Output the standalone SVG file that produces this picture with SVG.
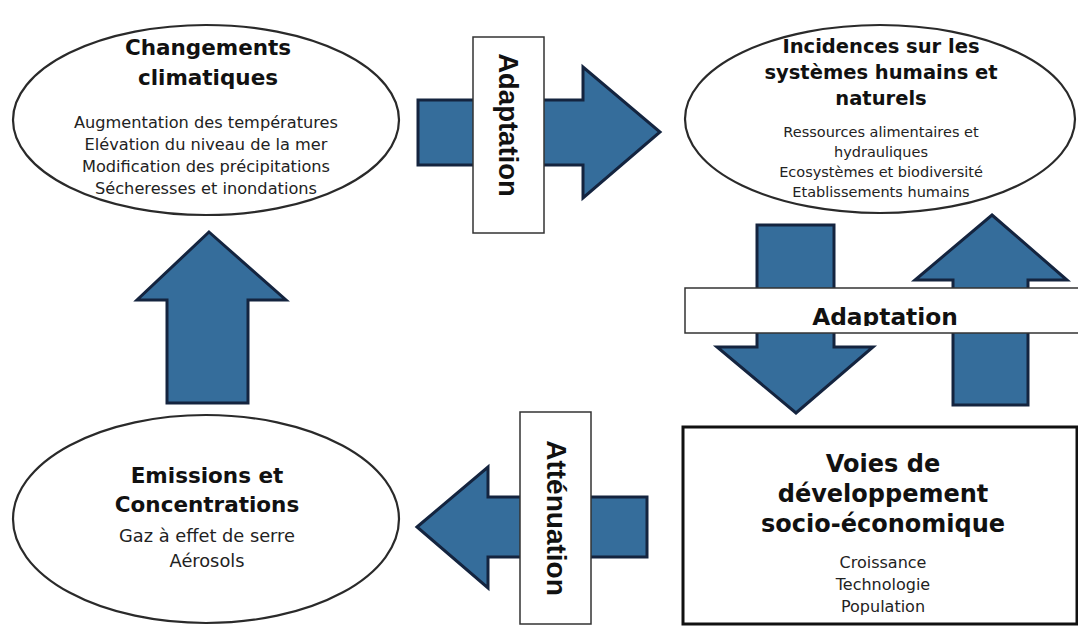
<svg xmlns="http://www.w3.org/2000/svg" width="1078" height="627" viewBox="0 0 1078 627">
<style>
.bg{fill:#ffffff}
.ell{fill:#ffffff;stroke:#2a2a2a;stroke-width:2.2}
.arrow{fill:#356d9b;stroke:#14243f;stroke-width:3;stroke-linejoin:miter}
.lbl{fill:#ffffff;stroke:#333333;stroke-width:1.5}
.title{font-family:"DejaVu Sans",Verdana,sans-serif;font-weight:bold;fill:#111111;text-anchor:middle}
.sub{font-family:"DejaVu Sans",Verdana,sans-serif;fill:#222222;text-anchor:middle}
.rot{font-family:"Liberation Sans",Arial,sans-serif;font-weight:bold;fill:#111111;text-anchor:middle}
.box{fill:#ffffff;stroke:#111111;stroke-width:3}
</style>
<defs>
<clipPath id="clipAd"><rect x="685" y="288" width="393" height="38"/></clipPath>
</defs>
<rect class="bg" x="0" y="0" width="1078" height="627"/>

<g id="connectors">
  <path id="arrow-adapt-right" class="arrow" d="M418,100 H583 V67 L660,132 L583,198 V165 H418 Z"/>
  <path id="arrow-down" class="arrow" d="M757,225 H834 V347 H873 L796,413 L717,347 H757 Z"/>
  <path id="arrow-up-right" class="arrow" d="M992,215 L1067,280 H1028 V405 H953 V280 H915 Z"/>
  <path id="arrow-up-left" class="arrow" d="M209,232 L286,300 H248 V403 H167 V300 H137 Z"/>
  <path id="arrow-left" class="arrow" d="M417,527 L488,467 V497 H647 V557 H488 V588 Z"/>

  <g id="label-adaptation-1">
    <rect class="lbl" x="473" y="37" width="71" height="196"/>
    <text class="rot" font-size="27.5" transform="translate(499,125) rotate(90)">Adaptation</text>
  </g>
  <g id="label-adaptation-2">
    <rect class="lbl" x="685" y="288" width="400" height="45"/>
    <text class="title" font-size="23.3" x="885" y="325" clip-path="url(#clipAd)">Adaptation</text>
  </g>
  <g id="label-attenuation">
    <rect class="lbl" x="520" y="412" width="71" height="212"/>
    <text class="rot" font-size="28" transform="translate(547,518) rotate(90)">Atténuation</text>
  </g>
</g>

<g id="node-changements">
  <ellipse class="ell" cx="206" cy="120" rx="193" ry="95"/>
  <text class="title" font-size="21.5" x="208" y="55">Changements</text>
  <text class="title" font-size="21.5" x="208" y="85">climatiques</text>
  <text class="sub" font-size="16.2" x="206" y="128">Augmentation des températures</text>
  <text class="sub" font-size="16.2" x="206" y="150">Elévation du niveau de la mer</text>
  <text class="sub" font-size="16.2" x="206" y="172">Modification des précipitations</text>
  <text class="sub" font-size="16.2" x="206" y="194">Sécheresses et inondations</text>
</g>

<g id="node-incidences">
  <ellipse class="ell" cx="880" cy="119" rx="195" ry="94"/>
  <text class="title" font-size="19.5" x="881" y="53">Incidences sur les</text>
  <text class="title" font-size="19.5" x="881" y="79">systèmes humains et</text>
  <text class="title" font-size="19.5" x="881" y="105">naturels</text>
  <text class="sub" font-size="14.5" x="881" y="137">Ressources alimentaires et</text>
  <text class="sub" font-size="14.5" x="881" y="157">hydrauliques</text>
  <text class="sub" font-size="14.5" x="881" y="177">Ecosystèmes et biodiversité</text>
  <text class="sub" font-size="14.5" x="881" y="197">Etablissements humains</text>
</g>

<g id="node-emissions">
  <ellipse class="ell" cx="206" cy="519" rx="193" ry="104"/>
  <text class="title" font-size="21.5" x="207" y="483">Emissions et</text>
  <text class="title" font-size="21.5" x="207" y="512">Concentrations</text>
  <text class="sub" font-size="17.8" x="207" y="542">Gaz à effet de serre</text>
  <text class="sub" font-size="17.8" x="207" y="567">Aérosols</text>
</g>

<g id="node-voies">
  <rect class="box" x="683" y="427" width="394" height="197"/>
  <text class="title" font-size="24" x="883" y="472">Voies de</text>
  <text class="title" font-size="24" x="883" y="502">développement</text>
  <text class="title" font-size="24" x="883" y="532">socio-économique</text>
  <text class="sub" font-size="16" x="883" y="568">Croissance</text>
  <text class="sub" font-size="16" x="883" y="590">Technologie</text>
  <text class="sub" font-size="16" x="883" y="612">Population</text>
</g>
</svg>
